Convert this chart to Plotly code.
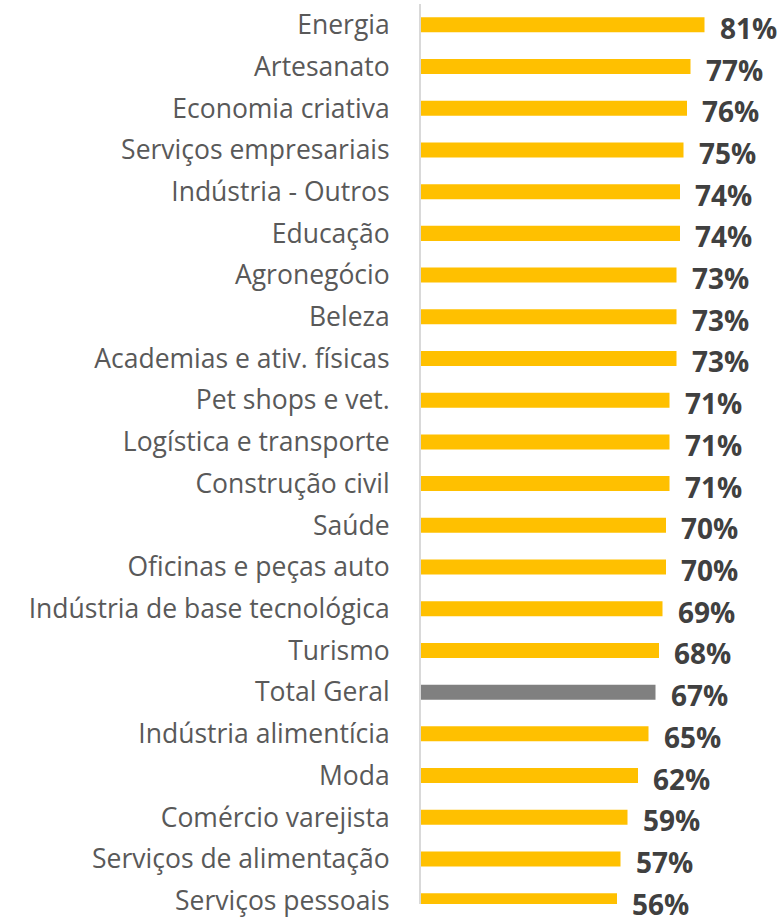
import plotly.graph_objects as go

categories = ["Energia", "Artesanato", "Economia criativa", "Serviços empresariais",
              "Indústria - Outros", "Educação", "Agronegócio", "Beleza",
              "Academias e ativ. físicas", "Pet shops e vet.", "Logística e transporte",
              "Construção civil", "Saúde", "Oficinas e peças auto",
              "Indústria de base tecnológica", "Turismo", "Total Geral",
              "Indústria alimentícia", "Moda", "Comércio varejista",
              "Serviços de alimentação", "Serviços pessoais"]
values = [81, 77, 76, 75, 74, 74, 73, 73, 73, 71, 71, 71, 70, 70, 69, 68, 67, 65, 62, 59, 57, 56]
labels = [f"{v}%" for v in values]

colors = ["#808080" if c == "Total Geral" else "#FFC000" for c in categories]

fig = go.Figure(go.Bar(
    x=values, y=categories, orientation="h",
    marker=dict(color=colors, line=dict(width=0)),
    hoverinfo="skip",
))

for c, v, t in zip(categories, values, labels):
    fig.add_annotation(x=v, y=c, text=t, showarrow=False, xanchor="left", yanchor="middle",
                       xshift=13, yshift=-3,
                       font=dict(family="Open Sans", size=28, color="#404040", weight="bold"))

plot_w = 780 - 421
fig.update_layout(
    width=780, height=918,
    margin=dict(l=421, r=0, t=4, b=0),
    paper_bgcolor="white", plot_bgcolor="white",
    bargap=0.64,
    showlegend=False,
    xaxis=dict(range=[0, plot_w / 3.5], visible=False, showgrid=False, zeroline=False),
    yaxis=dict(type="category", range=[21.08, -0.5], showgrid=False, zeroline=False,
               showline=True, linecolor="#D9D9D9", linewidth=2,
               ticks="", ticklabelstandoff=24,
               tickfont=dict(family="Open Sans", size=26.5, color="#595959")),
)

fig.write_html("out.html", config={"displayModeBar": False},
               post_script="document.body.style.margin='0';document.body.style.overflow='hidden';")
